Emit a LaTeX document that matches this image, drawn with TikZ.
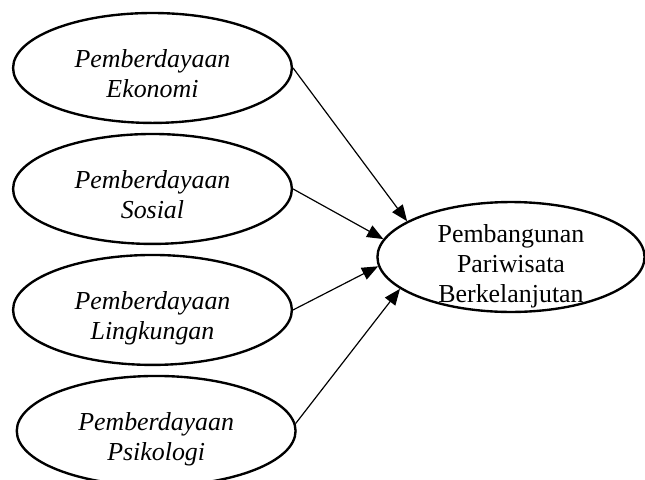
\documentclass[tikz,border=0pt]{standalone}
\usepackage{fontspec}
\setmainfont{Liberation Serif}
\usetikzlibrary{shapes.geometric,arrows.meta}

\begin{document}
\begin{tikzpicture}[node distance=1.97cm, font=\fontsize{12}{13.9}\selectfont]
        % Define block styles
        \tikzstyle{factor} = [ellipse, draw, line width=1.1pt, align=center, inner sep=0pt, text height=27.8pt, text depth=0pt, minimum width=4.54cm, minimum height=1.79cm, font=\fontsize{12}{13.9}\selectfont\itshape]
        \tikzstyle{outcome} = [ellipse, draw, line width=1.1pt, align=center, inner xsep=0pt, inner ysep=-6pt, text height=41.8pt, text depth=0pt, minimum width=4.35cm, minimum height=1.79cm]
        \tikzstyle{arrow} = [-{Triangle[length=7.5pt, width=6pt]}, line width=0.55pt]

        \useasboundingbox (-2.483,1.107) rectangle (8.02,-6.693);

        % Nodes
        \node[factor] (ekonomi) {Pemberdayaan\\Ekonomi};
        \node[factor, below of=ekonomi] (sosial) {Pemberdayaan\\Sosial};
        \node[factor, below of=sosial] (lingkungan) {Pemberdayaan\\Lingkungan};
        \node[factor, below of=lingkungan, xshift=0.06cm] (psikologi) {Pemberdayaan\\Psikologi};
        \node[outcome] (pariwisata) at (5.838,-3.078) {Pembangunan\\Pariwisata\\Berkelanjutan};

        % Arrows
        \draw[arrow] (ekonomi.east) -- (pariwisata.161.7);
        \draw[arrow] (sosial.east) -- (pariwisata.172.4);
        \draw[arrow] (lingkungan.east) -- (pariwisata.184.7);
        \draw[arrow] (psikologi.3) -- (pariwisata.196.3);

    \end{tikzpicture}
\end{document}
